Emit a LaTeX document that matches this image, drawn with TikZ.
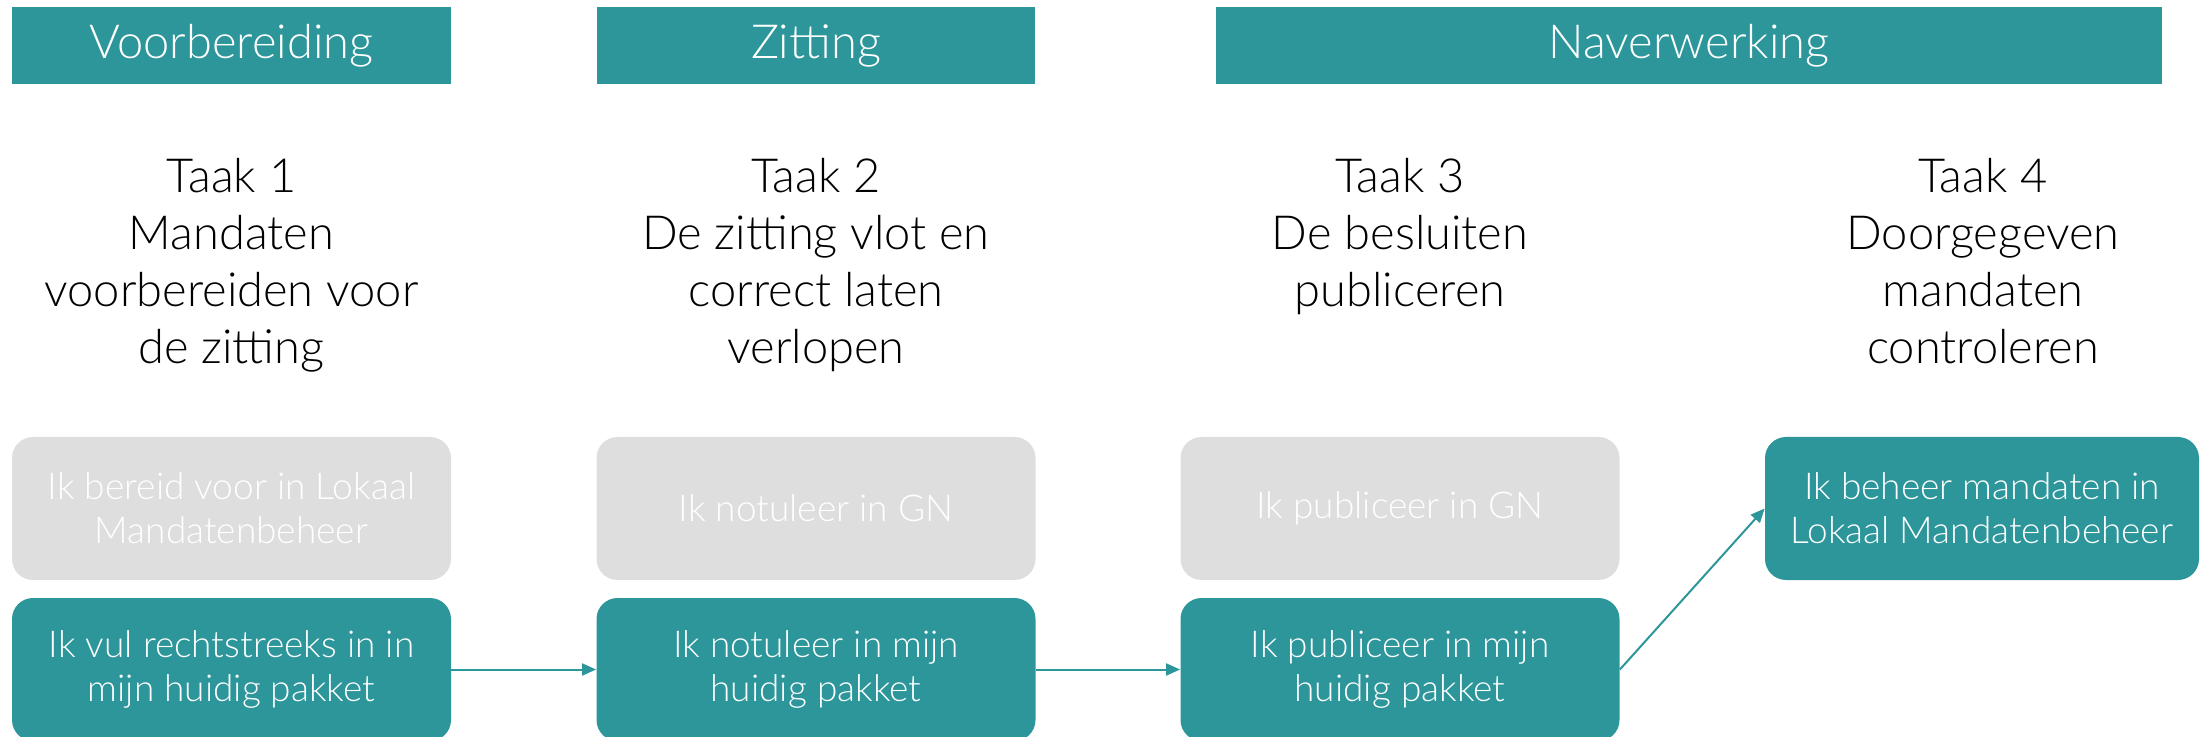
\documentclass[tikz,border=0pt]{standalone}
\usepackage{fontspec}
\setmainfont{Lato Light}
\usetikzlibrary{arrows.meta}
\definecolor{teal1}{HTML}{2C969B}
\definecolor{grey1}{HTML}{DEDEDE}
\tikzset{
  hdr/.style={fill=teal1, text=white, minimum height=38.5pt, inner sep=0pt,
    font=\fontsize{23.5}{27}\selectfont},
  task/.style={anchor=north, align=center, inner sep=0pt, text=black,
    font=\fontsize{23.5}{28.5}\selectfont},
  box/.style={rounded corners=10.5pt, minimum width=219.5pt, minimum height=71.5pt,
    inner sep=0pt, align=center, text=white, font=\fontsize{18.5}{22}\selectfont},
  greybox/.style={box, fill=grey1},
  tealbox/.style={box, fill=teal1},
  flow/.style={draw=teal1, line width=1pt, -{Triangle[length=7pt,width=6pt]}}
}
\begin{document}
\begin{tikzpicture}[x=0.5pt,y=-0.5pt]
\useasboundingbox (0,0) rectangle (2201,737);
\clip (0,0) rectangle (2201,737);
\node[hdr, minimum width=219.5pt] (h1) at (231.5,45.5) {Voorbereiding};
\node[hdr, minimum width=219pt] (h2) at (816,45.5) {Zitting};
\node[hdr, minimum width=473pt] (h3) at (1689,45.5) {Naverwerking};
\node[task] (t1) at (231.5,158) {Taak 1\\Mandaten\\voorbereiden voor\\de zitting};
\node[task] (t2) at (816,158) {Taak 2\\De zitting vlot en\\correct laten\\verlopen};
\node[task] (t3) at (1400,158) {Taak 3\\De besluiten\\publiceren};
\node[task] (t4) at (1983,158) {Taak 4\\Doorgegeven\\mandaten\\controleren};
\node[greybox] (g1) at (231.5,508.5) {Ik bereid voor in Lokaal\\Mandatenbeheer};
\node[greybox] (g2) at (816,508.5) {Ik notuleer in GN};
\node[greybox] (g3) at (1400,508.5) {Ik publiceer in GN};
\node[tealbox] (b1) at (231.5,669.5) {Ik vul rechtstreeks in in\\mijn huidig pakket};
\node[tealbox] (b2) at (816,669.5) {Ik notuleer in mijn\\huidig pakket};
\node[tealbox] (b3) at (1400,669.5) {Ik publiceer in mijn\\huidig pakket};
\node[tealbox, minimum width=217pt] (b4) at (1982,508.5) {Ik beheer mandaten in\\Lokaal Mandatenbeheer};
\draw[flow] (b1.east) -- (b2.west);
\draw[flow] (b2.east) -- (b3.west);
\draw[flow] (b3.east) -- (b4.west);
\end{tikzpicture}
\end{document}
